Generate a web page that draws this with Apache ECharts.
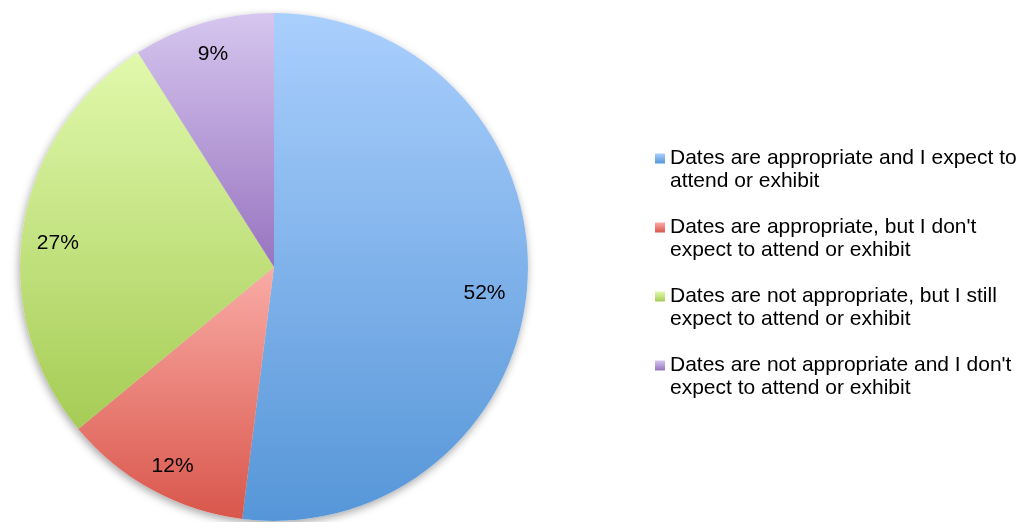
<!DOCTYPE html>
<html>
<head>
<meta charset="utf-8">
<title>Dates survey</title>
<script src="https://cdn.jsdelivr.net/npm/echarts@6/dist/echarts.min.js"></script>
<style>
  html, body { margin: 0; padding: 0; background: #fff; }
  #chart { width: 1025px; height: 522px; }
</style>
</head>
<body>
<div id="chart"></div>
<script>
// Survey answers, in drawing order (clockwise from 12 o'clock)
const categories = [
  "Dates are appropriate and I expect to\nattend or exhibit",
  "Dates are appropriate, but I don't\nexpect to attend or exhibit",
  "Dates are not appropriate, but I still\nexpect to attend or exhibit",
  "Dates are not appropriate and I don't\nexpect to attend or exhibit"
];
const shares = [52, 12, 27, 9];

// Light-to-dark vertical shading for each slice
const shadeTop = ['#aacffd', '#f9aca6', '#e1f9ad', '#d6c6ef'];
const shadeBottom = ['#5696d8', '#d9564b', '#a6cc55', '#9874c0'];

// small per-slice nudges of the percentage labels (px)
const labelNudge = [[-8, 12], [4, 7], [0, 10], [0, -3]];

const grad = (i) => new echarts.graphic.LinearGradient(0, 0, 0, 1, [
  { offset: 0, color: shadeTop[i] },
  { offset: 1, color: shadeBottom[i] }
]);

const center = [274, 267];
const radius = 254;
const fontFamily = '"Liberation Sans", Arial, Helvetica, sans-serif';

const sliceData = categories.map((name, i) => ({
  name: name,
  value: shares[i],
  itemStyle: { color: grad(i) }
}));

const chart = echarts.init(document.getElementById('chart'), null, { renderer: 'canvas' });

chart.setOption({
  animation: false,
  legend: {
    orient: 'vertical',
    left: 655,
    top: 124,
    padding: 0,
    itemWidth: 10,
    itemHeight: 10,
    itemGap: 0,
    icon: 'rect',
    selectedMode: false,
    data: categories,
    // a leading blank line keeps the swatch level with the first text line
    formatter: (name) => '\n' + name,
    textStyle: {
      fontFamily: fontFamily,
      fontSize: 21,
      lineHeight: 23,
      color: '#000'
    }
  },
  series: [
    {
      // gradient slices
      type: 'pie',
      z: 2,
      center: center,
      radius: [0, radius],
      startAngle: 90,
      clockwise: true,
      silent: true,
      label: { show: false },
      labelLine: { show: false },
      emphasis: { disabled: true },
      data: sliceData
    },
    {
      // soft drop shadow under the disc
      type: 'pie',
      z: 1,
      center: center,
      radius: [0, radius],
      startAngle: 90,
      clockwise: true,
      silent: true,
      label: { show: false },
      labelLine: { show: false },
      emphasis: { disabled: true },
      itemStyle: {
        color: '#ffffff',
        shadowColor: 'rgba(0,0,0,0.35)',
        shadowBlur: 8,
        shadowOffsetX: -1,
        shadowOffsetY: 3
      },
      data: categories.map((name, i) => ({ name: name, value: shares[i] }))
    },
    {
      // percentage labels placed near the rim
      type: 'pie',
      z: 3,
      center: center,
      radius: [radius * 0.7, radius],
      startAngle: 90,
      clockwise: true,
      silent: true,
      emphasis: { disabled: true },
      itemStyle: { color: 'rgba(0,0,0,0)' },
      labelLine: { show: false },
      label: {
        show: true,
        position: 'inside',
        formatter: '{c}%',
        fontFamily: fontFamily,
        fontSize: 21,
        color: '#000'
      },
      data: categories.map((name, i) => ({
        name: name,
        value: shares[i],
        label: { offset: labelNudge[i] }
      }))
    }
  ]
});
</script>
</body>
</html>
